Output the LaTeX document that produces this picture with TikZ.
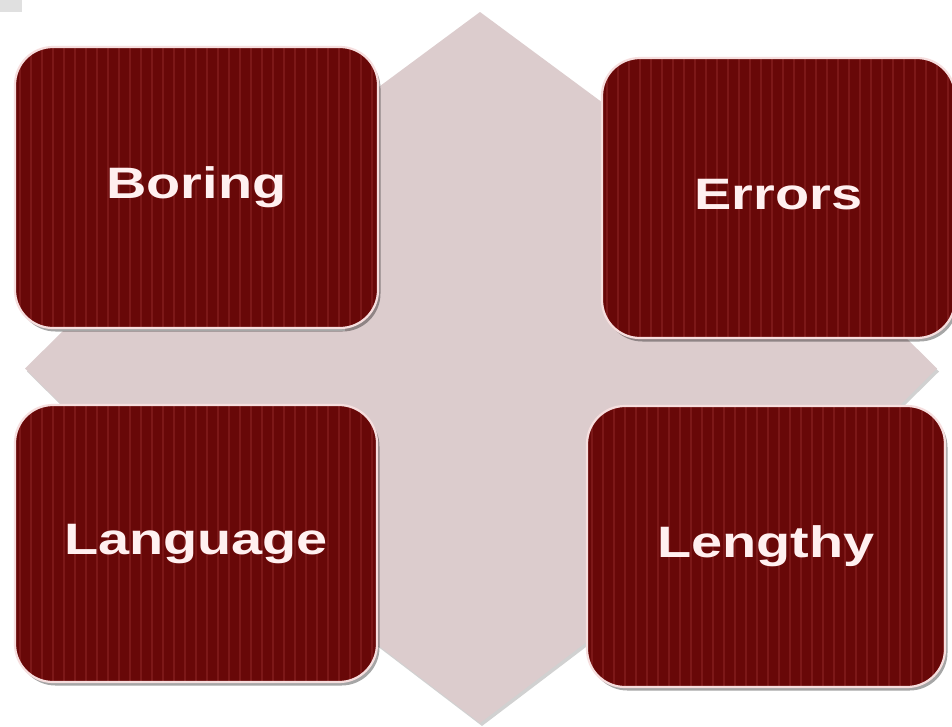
\documentclass[tikz,border=0pt]{standalone}
\usepackage{graphicx}
\usepackage{fontspec}
\setmainfont{Liberation Sans}
\usetikzlibrary{shadows}
\definecolor{crossfill}{RGB}{220,204,205}
\definecolor{boxfill}{RGB}{104,8,8}
\definecolor{stripec}{RGB}{124,24,24}
\definecolor{rim}{RGB}{246,222,222}
\definecolor{txt}{RGB}{255,240,240}
\begin{document}
\begin{tikzpicture}[x=1pt,y=-1pt,
  card/.style={draw=rim, line width=2.2pt, fill=boxfill, rounded corners=38pt,
    inner sep=0pt, text=txt, font=\bfseries\fontsize{44}{44}\selectfont,
    text height=31pt, text depth=9pt,
    drop shadow={shadow xshift=2.5pt, shadow yshift=-3.5pt, opacity=0.35, fill=black},
    path picture={\foreach \k in {0,...,36}{\fill[stripec, sharp corners] ([xshift=\k*11pt+4pt, yshift=-10pt]path picture bounding box.south west) rectangle ++(2pt,400pt);}}},
  crossshape/.style={fill=crossfill},
  crossshadow/.style={fill=black, opacity=0.18}]
\useasboundingbox[fill=white] (0,0) rectangle (952,726);
\fill[black!12] (0,0) rectangle (22,12);
% background cross
\fill[crossshadow] (482,15) -- (622,118.6) -- (622,334) -- (901,334) -- (939,371.5) -- (901,409) -- (622,409) -- (622,619.6) -- (482,726) -- (347,623) -- (347,409) -- (65,409) -- (27,371.5) -- (65,334) -- (347,334) -- (347,115) -- cycle;
\fill[crossshape] (480,12) -- (620,115.6) -- (620,331) -- (899,331) -- (937,368.5) -- (899,406) -- (620,406) -- (620,616.6) -- (480,723) -- (345,620) -- (345,406) -- (63,406) -- (25,368.5) -- (63,331) -- (345,331) -- (345,112) -- cycle;
% boxes
\node[card, minimum width=363pt, minimum height=281pt] (boring) at (196.5,187.5) {\scalebox{1.27}[1]{Boring}};
\node[card, minimum width=353pt, minimum height=280pt] (errors) at (778.5,198) {\scalebox{1.27}[1]{Errors}};
\node[card, minimum width=362pt, minimum height=277pt] (language) at (196,543.5) {\scalebox{1.27}[1]{Language}};
\node[card, minimum width=358pt, minimum height=281pt] (lengthy) at (766,546.5) {\scalebox{1.27}[1]{Lengthy}};
\end{tikzpicture}
\end{document}
